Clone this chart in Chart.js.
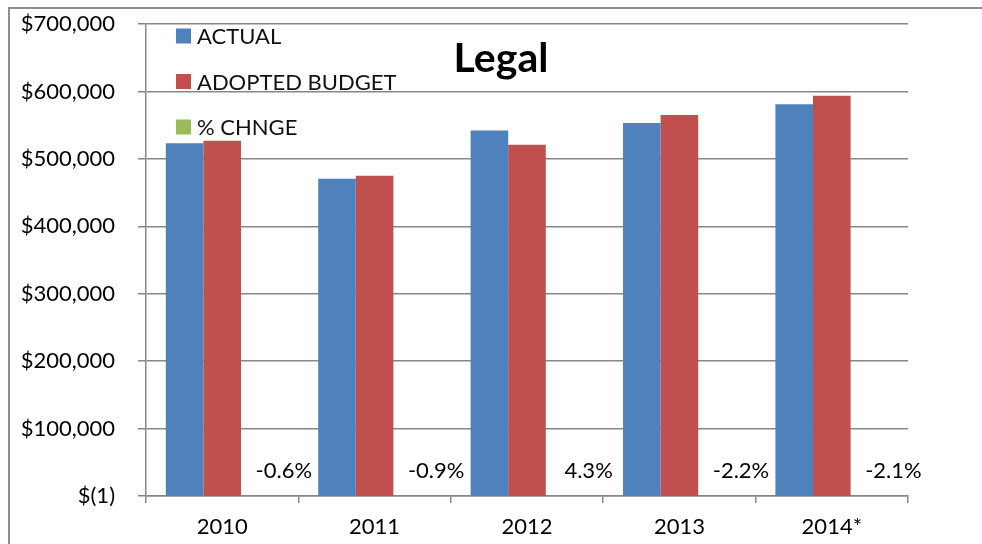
<!DOCTYPE html>
<html>
<head>
<meta charset="utf-8">
<script src="https://cdn.jsdelivr.net/npm/chart.js@4.4.1/dist/chart.umd.min.js"></script>
<style>
  html, body { margin: 0; padding: 0; background: #ffffff; }
  #wrap { position: relative; width: 982px; height: 544px; }
</style>
</head>
<body>
<div id="wrap"><canvas id="c" width="982" height="544"></canvas></div>
<script>
// Legal department: actual spend vs adopted budget, with year-over-year % change
const years = ['2010', '2011', '2012', '2013', '2014*'];
const actual = [523000, 470500, 542000, 553000, 581000];
const adoptedBudget = [527000, 475000, 521000, 565000, 593500];
const pctChange = [-0.6, -0.9, 4.3, -2.2, -2.1];
const yTickValues = [-1, 100000, 200000, 300000, 400000, 500000, 600000, 700000];
const chartTitle = 'Legal';

const FONT = 'Lato';
const GRID = '#878787';

function money(v) {
  const s = Math.abs(v).toLocaleString('en-US');
  return v < 0 ? '$(' + s + ')' : '$' + s;
}

// Outer frame (top and left edges)
const framePlugin = {
  id: 'frame',
  beforeDraw(chart) {
    const ctx = chart.ctx;
    ctx.save();
    ctx.strokeStyle = '#8e8e8e';
    ctx.lineWidth = 2;
    ctx.beginPath();
    ctx.moveTo(9, chart.height);
    ctx.lineTo(9, 8);
    ctx.lineTo(chart.width, 8);
    ctx.stroke();
    ctx.restore();
  }
};

// Title inside the plot area
const titlePlugin = {
  id: 'innerTitle',
  afterDraw(chart) {
    const ctx = chart.ctx;
    ctx.save();
    ctx.font = 'bold 41px ' + FONT;
    ctx.fillStyle = '#000';
    ctx.textAlign = 'center';
    ctx.textBaseline = 'alphabetic';
    ctx.fillText(chartTitle, 501, 72);
    ctx.restore();
  }
};

// Stacked legend in the upper-left of the plot area
const legendPlugin = {
  id: 'innerLegend',
  afterDraw(chart) {
    const ctx = chart.ctx;
    ctx.save();
    ctx.font = '22px ' + FONT;
    ctx.textAlign = 'left';
    ctx.textBaseline = 'middle';
    chart.data.datasets.forEach((ds, i) => {
      const cy = 36 + i * 45.5;
      ctx.fillStyle = ds.backgroundColor;
      ctx.fillRect(176, cy - 7.5, 15, 15);
      ctx.fillStyle = '#111';
      ctx.fillText(ds.label, 197, cy + 1);
    });
    ctx.restore();
  }
};

// % change labels next to the (near-zero) change bars
const pctLabelPlugin = {
  id: 'pctLabels',
  afterDatasetsDraw(chart) {
    const ctx = chart.ctx;
    const meta = chart.getDatasetMeta(2);
    const zeroY = chart.scales.y.getPixelForValue(0);
    ctx.save();
    ctx.font = '22px ' + FONT;
    ctx.fillStyle = '#000';
    ctx.textAlign = 'center';
    ctx.textBaseline = 'middle';
    meta.data.forEach((el, i) => {
      const v = chart.data.datasets[2].data[i];
      ctx.fillText(v.toFixed(1) + '%', el.x + 24, zeroY - 25);
    });
    ctx.restore();
  }
};

new Chart(document.getElementById('c'), {
  type: 'bar',
  data: {
    labels: years,
    datasets: [
      { label: 'ACTUAL', data: actual, backgroundColor: '#4F81BD' },
      { label: 'ADOPTED BUDGET', data: adoptedBudget, backgroundColor: '#C0504D' },
      { label: '% CHNGE', data: pctChange, backgroundColor: '#9BBB59' }
    ]
  },
  options: {
    responsive: false,
    devicePixelRatio: 1,
    animation: false,
    layout: { padding: { left: 0, right: 74, top: 24, bottom: 0 }, autoPadding: false },
    datasets: { bar: { categoryPercentage: 0.74, barPercentage: 1.0 } },
    plugins: {
      legend: { display: false },
      title: { display: false },
      tooltip: { enabled: false }
    },
    scales: {
      x: {
        grid: { drawOnChartArea: false, color: GRID, lineWidth: 1.5, tickLength: 7, offset: true },
        border: { color: GRID, width: 1.5 },
        ticks: { padding: 11, color: '#000', font: { family: FONT, size: 22 } },
        afterFit(s) { s.height = 48; }
      },
      y: {
        min: -1,
        max: 700000,
        afterBuildTicks(s) { s.ticks = yTickValues.map(v => ({ value: v })); },
        afterFit(s) { s.width = 146; s.paddingTop = 0; s.paddingBottom = 0; },
        grid: { color: GRID, lineWidth: 1.5, tickLength: 8 },
        border: { color: GRID, width: 1.5 },
        ticks: { padding: 23, color: '#000', font: { family: FONT, size: 22 }, callback: v => money(v) }
      }
    }
  },
  plugins: [framePlugin, titlePlugin, legendPlugin, pctLabelPlugin]
});
</script>
</body>
</html>
